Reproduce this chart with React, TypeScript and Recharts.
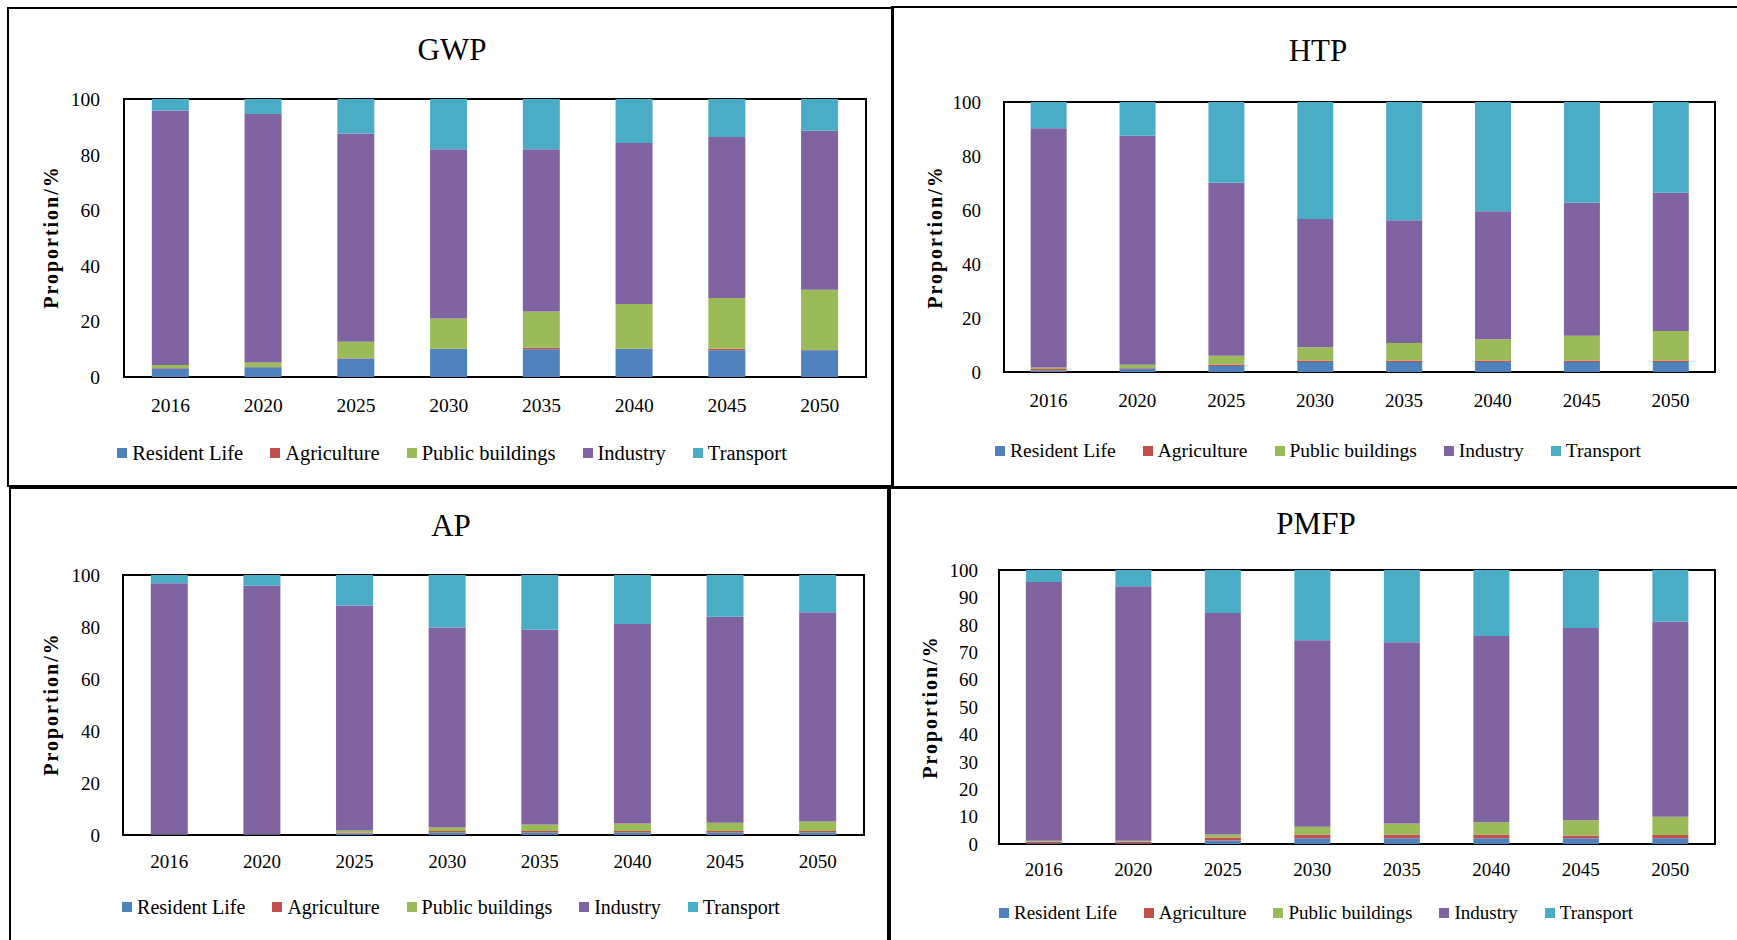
import React from 'react';
import { BarChart, Bar, XAxis, YAxis, ReferenceArea } from 'recharts';

// Categories and series
const years = ['2016', '2020', '2025', '2030', '2035', '2040', '2045', '2050'];
const seriesNames = ['Resident Life', 'Agriculture', 'Public buildings', 'Industry', 'Transport'];
const seriesColors = ['#4F81BD', '#C0504D', '#9BBB59', '#8064A2', '#4BACC6'];

// Tick labels
const ticksBy20 = [0, 20, 40, 60, 80, 100];
const ticksBy10 = [0, 10, 20, 30, 40, 50, 60, 70, 80, 90, 100];

// GWP shares (%)
const gwpResident = [3.1, 3.5, 6.6, 10.1, 10.0, 10.1, 9.6, 9.6];
const gwpAgriculture = [0.1, 0.1, 0.1, 0.1, 0.5, 0.1, 0.6, 0.1];
const gwpPublic = [1.1, 1.6, 6.0, 10.8, 13.1, 16.1, 18.2, 21.7];
const gwpIndustry = [91.6, 89.4, 74.9, 60.9, 58.3, 57.9, 57.9, 57.2];
const gwpTransport = [4.1, 5.4, 12.4, 18.1, 18.1, 15.8, 13.7, 11.4];

// HTP shares (%)
const htpResident = [0.6, 1.3, 2.2, 3.7, 3.7, 3.7, 3.7, 3.7];
const htpAgriculture = [0.5, 0.2, 0.6, 0.6, 0.6, 0.6, 0.6, 0.6];
const htpPublic = [0.6, 1.2, 3.2, 4.9, 6.4, 7.8, 9.1, 10.9];
const htpIndustry = [88.6, 84.8, 64.1, 47.5, 45.5, 47.4, 49.3, 51.2];
const htpTransport = [9.7, 12.5, 29.9, 43.3, 43.8, 40.5, 37.3, 33.6];

// AP shares (%)
const apResident = [0.1, 0.1, 0.6, 1.0, 1.0, 1.0, 1.0, 1.0];
const apAgriculture = [0.0, 0.0, 0.3, 0.5, 0.5, 0.5, 0.5, 0.5];
const apPublic = [0.1, 0.1, 0.8, 1.4, 2.5, 2.9, 3.2, 3.7];
const apIndustry = [96.6, 95.7, 86.6, 76.9, 74.9, 76.8, 79.2, 80.5];
const apTransport = [3.2, 4.1, 11.7, 20.2, 21.1, 18.8, 16.1, 14.3];

// PMFP shares (%)
const pmfpResident = [0.3, 0.3, 1.3, 2.1, 2.1, 2.1, 2.1, 2.1];
const pmfpAgriculture = [0.5, 0.5, 1.1, 1.4, 1.4, 1.4, 1.0, 1.2];
const pmfpPublic = [0.4, 0.4, 1.1, 2.8, 4.0, 4.4, 5.6, 6.6];
const pmfpIndustry = [94.4, 92.9, 80.8, 68.1, 66.1, 68.0, 70.1, 71.2];
const pmfpTransport = [4.4, 5.9, 15.7, 25.6, 26.4, 24.1, 21.2, 18.9];

const FONT = '"Liberation Serif", "Times New Roman", Times, serif';

const buildRows = (cols: number[][]) =>
  years.map((year, i) => {
    const row: Record<string, string | number> = { year };
    cols.forEach((c, k) => {
      row[`s${k}`] = c[i];
    });
    return row;
  });

type Layout = {
  box: { left: number; top: number; width: number; height: number };
  plot: { left: number; top: number; right: number; bottom: number };
  cx: number;
  titleY: number;
  titleSize: number;
  yLabel: { x: number; y: number };
  legendY: number;
  legendSize: number;
  tickSize: number;
  yTickGap: number;
  xTickGap: number;
};

const MT = 20;
const MR = 20;
const YW = 60;
const XH = 50;

function Panel({ title, rows, ticks, L }: { title: string; rows: any[]; ticks: number[]; L: Layout }) {
  const plotW = L.plot.right - L.plot.left;
  const plotH = L.plot.bottom - L.plot.top;
  const tickStyle = { fill: '#000', fontSize: L.tickSize, fontFamily: FONT };
  return (
    <>
      <div
        style={{
          position: 'absolute',
          left: L.box.left,
          top: L.box.top,
          width: L.box.width,
          height: L.box.height,
          border: '2px solid #000',
          boxSizing: 'border-box',
        }}
      />
      <div
        style={{
          position: 'absolute',
          left: L.cx - 200,
          width: 400,
          top: L.titleY - L.titleSize / 2,
          lineHeight: `${L.titleSize}px`,
          fontSize: L.titleSize,
          fontFamily: FONT,
          textAlign: 'center',
          color: '#000',
        }}
      >
        {title}
      </div>
      <div
        style={{
          position: 'absolute',
          left: L.yLabel.x - 100,
          top: L.yLabel.y - 12,
          width: 200,
          lineHeight: '24px',
          fontSize: 20,
          fontWeight: 'bold',
          letterSpacing: 2,
          fontFamily: FONT,
          textAlign: 'center',
          whiteSpace: 'nowrap',
          color: '#000',
          transform: 'rotate(-90deg)',
          transformOrigin: 'center',
        }}
      >
        Proportion/%
      </div>
      <div
        style={{
          position: 'absolute',
          left: L.plot.left - YW,
          top: L.plot.top - MT,
          fontFamily: FONT,
        }}
      >
        <BarChart
          width={YW + plotW + MR}
          height={MT + plotH + XH}
          data={rows}
          margin={{ top: MT, right: MR, bottom: 0, left: 0 }}
          barCategoryGap="30%"
          style={{ fontFamily: FONT }}
        >
          <XAxis
            dataKey="year"
            interval={0}
            axisLine={false}
            tickLine={false}
            tickSize={0}
            tickMargin={L.xTickGap}
            height={XH}
            tick={tickStyle}
          />
          <YAxis
            type="number"
            domain={[0, 100]}
            ticks={ticks}
            allowDataOverflow
            axisLine={false}
            tickLine={false}
            tickSize={0}
            tickMargin={L.yTickGap}
            width={YW}
            tick={tickStyle}
          />
          {seriesNames.map((name, k) => (
            <Bar
              key={name}
              dataKey={`s${k}`}
              name={name}
              stackId="share"
              fill={seriesColors[k]}
              isAnimationActive={false}
            />
          ))}
          <ReferenceArea y1={0} y2={100} fill="none" stroke="#000" strokeWidth={2} ifOverflow="visible" />
        </BarChart>
      </div>
      <div
        style={{
          position: 'absolute',
          left: L.cx - 400,
          width: 800,
          top: L.legendY - 12,
          height: 24,
          display: 'flex',
          justifyContent: 'center',
          alignItems: 'center',
          gap: 27,
          fontFamily: FONT,
          fontSize: L.legendSize,
          color: '#000',
          whiteSpace: 'nowrap',
        }}
      >
        {seriesNames.map((name, k) => (
          <div key={name} style={{ display: 'flex', alignItems: 'center', gap: 5 }}>
            <span style={{ width: 10, height: 10, background: seriesColors[k], display: 'inline-block' }} />
            <span>{name}</span>
          </div>
        ))}
      </div>
    </>
  );
}

const gwpLayout: Layout = {
  box: { left: 7, top: 7, width: 887, height: 480 },
  plot: { left: 124, top: 99, right: 866, bottom: 377 },
  cx: 452,
  titleY: 49,
  titleSize: 31,
  yLabel: { x: 51, y: 237 },
  legendY: 453,
  legendSize: 20.5,
  tickSize: 19.5,
  yTickGap: 24,
  xTickGap: 21,
};

const htpLayout: Layout = {
  box: { left: 891, top: 6, width: 900, height: 482 },
  plot: { left: 1004, top: 102, right: 1715, bottom: 372 },
  cx: 1318,
  titleY: 50,
  titleSize: 31,
  yLabel: { x: 935, y: 237 },
  legendY: 451,
  legendSize: 19.5,
  tickSize: 19,
  yTickGap: 23,
  xTickGap: 22,
};

const apLayout: Layout = {
  box: { left: 9, top: 487, width: 882, height: 500 },
  plot: { left: 123, top: 575, right: 864, bottom: 835 },
  cx: 451,
  titleY: 525,
  titleSize: 31,
  yLabel: { x: 51, y: 704 },
  legendY: 907,
  legendSize: 20,
  tickSize: 19,
  yTickGap: 23,
  xTickGap: 20,
};

const pmfpLayout: Layout = {
  box: { left: 887, top: 487, width: 900, height: 500 },
  plot: { left: 999, top: 570, right: 1715, bottom: 844 },
  cx: 1316,
  titleY: 523,
  titleSize: 31,
  yLabel: { x: 930, y: 707 },
  legendY: 913,
  legendSize: 19,
  tickSize: 19,
  yTickGap: 21,
  xTickGap: 19,
};

export default function App() {
  const gwpRows = buildRows([gwpResident, gwpAgriculture, gwpPublic, gwpIndustry, gwpTransport]);
  const htpRows = buildRows([htpResident, htpAgriculture, htpPublic, htpIndustry, htpTransport]);
  const apRows = buildRows([apResident, apAgriculture, apPublic, apIndustry, apTransport]);
  const pmfpRows = buildRows([pmfpResident, pmfpAgriculture, pmfpPublic, pmfpIndustry, pmfpTransport]);
  return (
    <div
      style={{
        position: 'absolute',
        left: 0,
        top: 0,
        width: 1737,
        height: 940,
        overflow: 'hidden',
        background: '#fff',
        fontFamily: FONT,
      }}
    >
      <Panel title="GWP" rows={gwpRows} ticks={ticksBy20} L={gwpLayout} />
      <Panel title="HTP" rows={htpRows} ticks={ticksBy20} L={htpLayout} />
      <Panel title="AP" rows={apRows} ticks={ticksBy20} L={apLayout} />
      <Panel title="PMFP" rows={pmfpRows} ticks={ticksBy10} L={pmfpLayout} />
    </div>
  );
}
